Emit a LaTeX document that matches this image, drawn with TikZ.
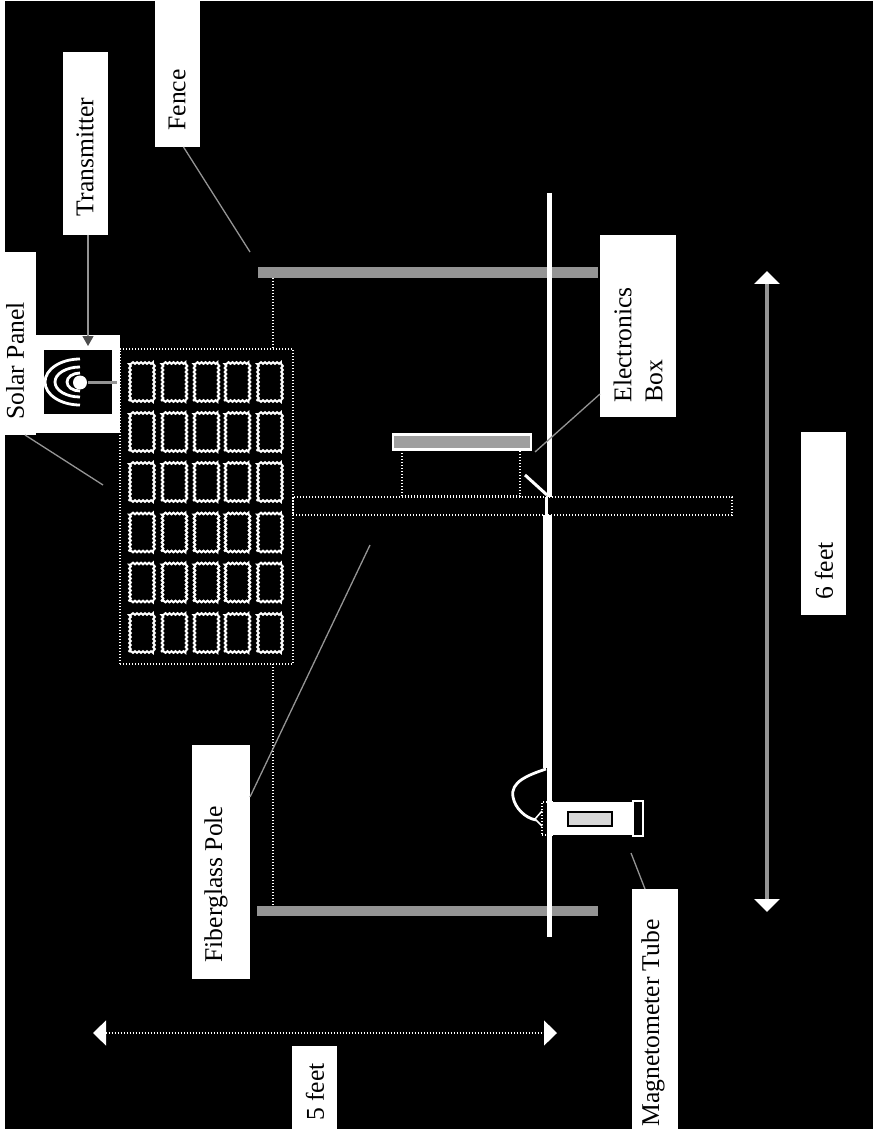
\documentclass[tikz,border=0pt]{standalone}
\usepackage{fontspec}
\setmainfont{Liberation Serif}
\usepackage{xcolor}
\usetikzlibrary{arrows.meta,positioning,calc,decorations.pathmorphing}
\definecolor{stipple}{gray}{0.58}

\begin{document}
\begin{tikzpicture}[
  x=1pt, y=-1pt,
  every node/.style={inner sep=0pt, outer sep=0pt},
  lab/.style={rectangle, fill=white, draw=none},
  txt/.style={rotate=90, text=black, align=left, font=\fontsize{25.6}{31}\selectfont},
  rail/.style={fill=stipple, draw=none},
  dotline/.style={draw=white, line width=1.1pt, dash pattern=on 1.2pt off 1.8pt},
  leader/.style={draw=stipple, line width=1.3pt},
  cell/.style={draw=white, line width=1.9pt, decorate, decoration={zigzag, segment length=4pt, amplitude=0.9pt}},
  dimtip/.style={{Triangle[length=13pt,width=25pt,color=white]}-{Triangle[length=13pt,width=25pt,color=white]}}
]
\useasboundingbox (0,0) rectangle (873,1131);
\fill[white] (0,0) rectangle (873,1131);
\fill[black] (5,1) rectangle (873,1129);

% ---- Fence ----
\node[rail, minimum width=340pt, minimum height=11pt] (railA) at (428,272.5) {};
\node[rail, minimum width=341pt, minimum height=10pt] (railB) at (427.5,910.5) {};
\draw[dotline] (273,278) -- (273,349);
\draw[dotline] (273,664) -- (273,906);

% ---- Solar panel ----
\node[rectangle, dotline, minimum width=173pt, minimum height=315pt] (panel) at (206.5,506.5) {};
\foreach \col/\cx in {1/142,2/174.5,3/206.5,4/237.5,5/270}{
  \foreach \row/\cy in {1/382,2/432,3/482,4/532.5,5/582.5,6/633}{
    \node[rectangle, cell, minimum width=24pt, minimum height=38pt] (cell\col\row) at (\cx,\cy) {};
  }
}

% ---- Pole ----
\node[rectangle, dotline, minimum width=439pt, minimum height=18pt] (pole) at (512.5,506) {};

% ---- Wire and electronics box ----
\draw[white, line width=5pt] (549.5,193) -- (549.5,497);
\draw[white, line width=3pt] (546,497) -- (546,515);
\draw[white, line width=9pt] (547.5,515) -- (547.5,768);
\draw[white, line width=5pt] (549.5,768) -- (549.5,937);
\node[rectangle, dotline, minimum width=118pt, minimum height=46pt] (ebody) at (461,473) {};
\node[rectangle, draw=white, fill=gray!75, line width=2.5pt, minimum width=138pt, minimum height=15pt] (elid) at (462,442) {};
\draw[white, line width=3pt] (525,475) -- (547,495);

% ---- Magnetometer ----
\node[rectangle, fill=white, minimum width=80pt, minimum height=33pt] (tube) at (592,818.5) {};
\node[rectangle, dotline, minimum width=10pt, minimum height=33pt] (tubeend) at (547,818.5) {};
\node[rectangle, draw=black, fill=white!85!black, line width=2pt, minimum width=44pt, minimum height=14pt] (window) at (590,819) {};
\node[rectangle, draw=white, line width=2pt, minimum width=10pt, minimum height=35pt] (tubecap) at (638,818.5) {};
\coordinate (cableTop) at (546,769);
\coordinate (cableEnd) at (536,820);
\draw[white, line width=2.8pt] (cableTop) .. controls (528,775) and (510,782) .. (513,797) .. controls (515,808) and (525,818) .. (cableEnd);
\draw[white, line width=1.5pt] (tubeend.west |- 0,811) -- (535,819) -- (tubeend.west |- 0,826);

% ---- Transmitter ----
\node[lab, minimum width=84pt, minimum height=98pt] (block) at (78,384) {};
\node[rectangle, fill=black, minimum width=68pt, minimum height=64pt] (txbox) at (78,382) {};
\foreach \rx/\ry in {35/23,25/15,13/9}{
  \draw[white, line width=2.8pt] (80,382-\ry) arc[start angle=-90, end angle=-270, x radius=\rx, y radius=\ry];
}
\draw[stipple, line width=3pt] (88,382.5) -- (117,382.5);
\node[circle, fill=white, minimum size=14pt] (antenna) at (80,382.5) {};

% ---- Labels ----
\node[lab, minimum width=45pt, minimum height=146pt] (fenceBox) at (177.5,74) {};
\node[txt] (fenceTxt) at (177,100) {Fence};
\node[lab, minimum width=45pt, minimum height=183pt] (transBox) at (85.5,143.5) {};
\node[txt] (transTxt) at (85,157) {Transmitter};
\node[lab, minimum width=31pt, minimum height=183pt] (solarBox) at (20.5,343.5) {};
\node[txt] (solarTxt) at (15,361) {Solar Panel};
\node[lab, minimum width=58pt, minimum height=234pt] (poleBox) at (221,862) {};
\node[txt] (poleTxt) at (216,884) {Fiberglass Pole};
\node[lab, minimum width=76pt, minimum height=182pt] (elecBox) at (638,326) {};
\node[txt] (elecTxt) at (638,345) {Electronics\\Box};
\node[lab, minimum width=46pt, minimum height=240pt] (magBox) at (655,1009) {};
\node[txt] (magTxt) at (653,1023) {Magnetometer Tube};
\node[lab, minimum width=45pt, minimum height=83pt] (fiveBox) at (314.5,1087.5) {};
\node[txt] (fiveTxt) at (315,1092) {5 feet};
\node[lab, minimum width=45pt, minimum height=183pt] (sixBox) at (823.5,523.5) {};
\node[txt] (sixTxt) at (824,571) {6 feet};

% ---- Leaders ----
\coordinate (fenceEnd) at (250,252);
\coordinate (solarEnd) at (103,485);
\coordinate (poleEnd) at (370,545);
\coordinate (elecEnd) at (535,452);
\coordinate (magEnd) at (631,853);
\coordinate (transEnd) at (88,346);
\draw[leader] ([xshift=6pt]fenceBox.south) -- (fenceEnd);
\draw[leader] ([xshift=4.5pt]solarBox.south) -- (solarEnd);
\draw[leader] ([yshift=182pt]poleBox.south east) -- (poleEnd);
\draw[leader] ([yshift=23pt]elecBox.south west) -- (elecEnd);
\draw[leader] ([xshift=-10pt]magBox.north) -- (magEnd);
\draw[leader, -{Triangle[length=10pt,width=11pt,color=black!70]}] ([xshift=2.5pt]transBox.south) -- (transEnd);

% ---- Dimensions ----
\coordinate (fiveA) at (93,1033);
\coordinate (fiveB) at (557,1033);
\coordinate (sixA) at (767,271);
\coordinate (sixB) at (767,912);
\draw[dotline, dimtip] (fiveA) -- (fiveB);
\draw[stipple, line width=3.5pt, dimtip] (sixA) -- (sixB);

\end{tikzpicture}
\end{document}
